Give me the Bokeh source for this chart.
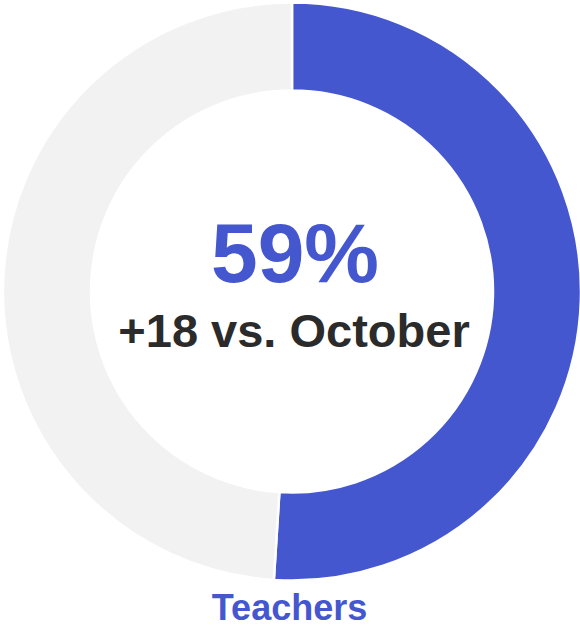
import math
from bokeh.plotting import figure
from bokeh.models import Range1d, ColumnDataSource
from bokeh.core.properties import value
from bokeh.embed import file_html
from bokeh.resources import INLINE

# Data
segments = ["Teachers", "Rest"]
shares = [51, 49]
colors = ["#4557cf", "#f2f2f2"]
headline = "59%"
subline = "+18 vs. October"
label = "Teachers"

W, H = 580, 628
p = figure(width=W, height=H, output_backend="svg", toolbar_location=None,
           x_range=Range1d(0, W), y_range=Range1d(0, H),
           min_border=0, outline_line_color=None, background_fill_color="white")
p.axis.visible = False
p.grid.visible = False

cx, cy = 291.5, H - 291
total = sum(shares)
starts, ends = [], []
acc = 0.0
for s in shares:
    starts.append(math.pi / 2 - 2 * math.pi * acc / total)
    acc += s
    ends.append(math.pi / 2 - 2 * math.pi * acc / total)

src = ColumnDataSource(dict(seg=segments, start=starts, end=ends, color=colors))
p.annular_wedge(x=cx, y=cy, inner_radius=201, outer_radius=289,
                start_angle="start", end_angle="end", direction="clock",
                fill_color="color", line_color="white", line_width=2.5, source=src)

font = value("Liberation Sans")
k = 0.355
p.text(x=[294.5], y=[H - 282 + k * 84], text=[headline], text_font=font, text_font_style="bold",
       text_font_size="84px", text_color=colors[0], text_align="center",
       text_baseline="alphabetic")
p.text(x=[293.5], y=[H - 347 + k * 47], text=[subline], text_font=font, text_font_style="bold",
       text_font_size="47px", text_color="#2b2b2b", text_align="center",
       text_baseline="alphabetic")
p.text(x=[289], y=[H - 620 + k * 36], text=[label], text_font=font, text_font_style="bold",
       text_font_size="36px", text_color=colors[0], text_align="center",
       text_baseline="alphabetic")

open("out.html", "w").write(file_html(p, INLINE))
